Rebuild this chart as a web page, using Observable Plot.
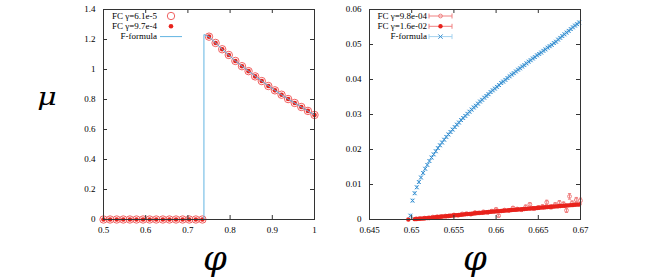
<!DOCTYPE html>
<html><head><meta charset="utf-8">
<script src="https://cdn.jsdelivr.net/npm/d3@7"></script>
<script src="https://cdn.jsdelivr.net/npm/@observablehq/plot@0.6"></script>
<style>
html,body{margin:0;padding:0;background:#fff;}
#wrap{position:relative;width:664px;height:279px;overflow:hidden;}
#wrap svg{position:absolute;top:0;}
</style></head>
<body><div id="wrap"></div>
<script>
// ---------- Left panel data ----------
const fcPhi = [0.5,0.515625,0.53125,0.546875,0.5625,0.578125,0.59375,0.609375,0.625,0.640625,0.65625,0.671875,0.6875,0.703125,0.71875,0.734375,
  0.75,0.765625,0.78125,0.796875,0.8125,0.828125,0.84375,0.859375,0.875,0.890625,0.90625,0.921875,0.9375,0.953125,0.96875,0.984375,1.0];
const fcMu = [0,0,0,0,0,0,0,0,0,0,0,0,0,0,0,0,
  1.219,1.177,1.135,1.097,1.057,1.022,0.989,0.954,0.923,0.890,0.861,0.832,0.803,0.777,0.750,0.724,0.697];
const fLinePhi = [0.5,0.738,0.738,0.75,0.78125,0.8125,0.84375,0.875,0.90625,0.9375,0.96875,1.0];
const fLineMu  = [0,0,1.233,1.219,1.135,1.057,0.989,0.923,0.861,0.803,0.750,0.697];
const xTicksL = [0.5,0.6,0.7,0.8,0.9,1];
const xLabelsL = ["0.5","0.6","0.7","0.8","0.9","1"];
const yTicksL = [0,0.2,0.4,0.6,0.8,1,1.2,1.4];
const yLabelsL = ["0","0.2","0.4","0.6","0.8","1","1.2","1.4"];
const legendL = ["FC \u03b3=6.1e-5","FC \u03b3=9.7e-4","F-formula"];

// ---------- Right panel data ----------
const gridPhi = [0.64985,0.6501,0.65035,0.6506,0.65085,0.6511,0.65135,0.6516,0.65185,0.6521,0.65235,0.6526,0.65285,0.6531,0.65335,0.6536,0.65385,0.6541,0.65435,0.6546,
  0.65485,0.6551,0.65535,0.6556,0.65585,0.6561,0.65635,0.6566,0.65685,0.6571,0.65735,0.6576,0.65785,0.6581,0.65835,0.6586,0.65885,0.6591,0.65935,0.6596,
  0.65985,0.6601,0.66035,0.6606,0.66085,0.6611,0.66135,0.6616,0.66185,0.6621,0.66235,0.6626,0.66285,0.6631,0.66335,0.6636,0.66385,0.6641,0.66435,0.6646,
  0.66485,0.6651,0.66535,0.6656,0.66585,0.6661,0.66635,0.6666,0.66685,0.6671,0.66735,0.6676,0.66785,0.6681,0.66835,0.6686,0.66885,0.6691,0.66935,0.6696,0.66985];
const fMuR = [0.0011,0.0054,0.0075,0.0092,0.0107,0.0120,0.0133,0.0145,0.0156,0.0167,0.0177,0.0186,0.0195,0.0204,0.0212,0.0220,0.0228,0.0236,0.0243,0.0250,
  0.0257,0.0264,0.0271,0.0277,0.0284,0.0290,0.0296,0.0302,0.0308,0.0314,0.0320,0.0325,0.0331,0.0337,0.0342,0.0348,0.0353,0.0358,0.0364,0.0369,
  0.0374,0.0379,0.0384,0.0390,0.0394,0.0399,0.0404,0.0409,0.0414,0.0418,0.0423,0.0428,0.0432,0.0437,0.0441,0.0446,0.0451,0.0455,0.0460,0.0464,
  0.0469,0.0473,0.0477,0.0482,0.0486,0.0491,0.0495,0.0499,0.0504,0.0508,0.0514,0.0519,0.0524,0.0529,0.0534,0.0539,0.0544,0.0549,0.0554,0.0558,0.0563];
const fErrR = 0.0004;
const fcHiPhi = [0.6496].concat(gridPhi.slice(2));
const fcHiMu = [0,0.0001,0.00015,0.0002,0.00025,0.0003,0.00035,0.0004,0.00045,0.00055,0.0006,0.00065,0.0007,0.0008,0.00085,0.0009,0.00095,0.001,0.00105,0.00115,
  0.0012,0.00125,0.0013,0.00135,0.0014,0.0015,0.00155,0.0016,0.00165,0.0017,0.0018,0.00185,0.0019,0.00195,0.002,0.0021,0.00215,0.0022,0.00225,0.0023,
  0.00235,0.0024,0.00245,0.0025,0.00255,0.0026,0.00265,0.0027,0.00275,0.0028,0.00285,0.0029,0.00295,0.003,0.00305,0.0031,0.00315,0.0032,0.00325,0.0033,
  0.00335,0.0034,0.00345,0.0035,0.00355,0.0036,0.00365,0.0037,0.00375,0.0038,0.00385,0.0039,0.00395,0.004,0.00405,0.0041,0.00415,0.0042,0.00425,0.0043];
const fcLoPhi = [0.6505,0.651,0.6515,0.652,0.6525,0.653,0.6535,0.654,0.6545,0.655,0.6555,0.656,0.6565,0.657,0.6575,0.658,0.6585,0.659,0.6595,0.66,
  0.6603,0.661,0.6615,0.662,0.6625,0.663,0.6635,0.664,0.6645,0.665,0.6655,0.666,0.6665,0.667,0.6675,0.668,0.66834,0.6687,0.669,0.6695,0.67];
const fcLoMu = [0.0002,0.0003,0.0004,0.0005,0.0007,0.0008,0.0008,0.0010,0.0011,0.0013,0.0012,0.0016,0.0017,0.0015,0.0020,0.0019,0.0022,0.0020,0.0024,0.0029,
  0.0011,0.0027,0.0026,0.0033,0.0030,0.0028,0.0036,0.0043,0.0031,0.0034,0.0037,0.0049,0.0036,0.0042,0.0048,0.0044,0.0026,0.0066,0.0047,0.0056,0.0054];
const fcLoErr = [0.0001,0.0001,0.0001,0.0002,0.0002,0.0002,0.0002,0.0002,0.0002,0.0003,0.0003,0.0003,0.0003,0.0003,0.0003,0.0003,0.0003,0.0004,0.0004,0.0004,
  0.0004,0.0004,0.0004,0.0004,0.0004,0.0005,0.0005,0.0005,0.0005,0.0005,0.0005,0.0006,0.0006,0.0006,0.0006,0.0006,0.0006,0.0008,0.0006,0.0007,0.0007];
const xTicksR = [0.645,0.65,0.655,0.66,0.665,0.67];
const xLabelsR = ["0.645","0.65","0.655","0.66","0.665","0.67"];
const yTicksR = [0,0.01,0.02,0.03,0.04,0.05,0.06];
const yLabelsR = ["0","0.01","0.02","0.03","0.04","0.05","0.06"];
const legendR = ["FC \u03b3=9.8e-04","FC \u03b3=1.6e-02","F-formula"];

// ---------- styles ----------
const RED = "#e8221c", PINK = "#f08080", BLUE = "#3a8fd0", LBLUE = "#a4d2ef", LINEBLUE = "#62b4e2", FRAME = "#333";
const TICKFONT = "Liberation Serif";

const capSymbol = {draw(ctx, size){ const r = Math.sqrt(size)/2; ctx.moveTo(-r,0); ctx.lineTo(r,0); }};

function scaffold(xTicks, xLabels, yTicks, yLabels, fw, fh) {
  const k = 4;
  return [
    Plot.tickX(xTicks, {x: d => d, insetTop: fh - k, stroke: FRAME}),
    Plot.tickX(xTicks, {x: d => d, insetBottom: fh - k, stroke: FRAME}),
    Plot.tickY(yTicks, {y: d => d, insetRight: fw - k, stroke: FRAME}),
    Plot.tickY(yTicks, {y: d => d, insetLeft: fw - k, stroke: FRAME}),
    Plot.axisX({ticks: xTicks, tickSize: 0, tickPadding: 7, tickFormat: (d, i) => xLabels[i], label: null}),
    Plot.axisY({ticks: yTicks, tickSize: 0, tickPadding: 8, tickFormat: (d, i) => yLabels[i], label: null})
  ];
}

// ---------- Left plot ----------
const LW = 340, LH = 279, LML = 103, LMR = 26, LMT = 9, LMB = 60;
const lfw = LW - LML - LMR, lfh = LH - LMT - LMB;
const fcData = fcPhi.map((x, i) => ({x, y: fcMu[i]}));
const fLine = fLinePhi.map((x, i) => ({x, y: fLineMu[i]}));
const left = Plot.plot({
  width: LW, height: LH, marginLeft: LML, marginRight: LMR, marginTop: LMT, marginBottom: LMB,
  style: {fontFamily: TICKFONT, fontSize: "9px", color: "#000", background: "transparent"},
  x: {domain: [0.5, 1]}, y: {domain: [0, 1.4]},
  marks: [
    Plot.dot(fcData, {x: "x", y: "y", r: 3.7, stroke: "#f06060", strokeWidth: 1, fill: "none"}),
    Plot.dot(fcData, {x: "x", y: "y", r: 2.3, fill: RED, stroke: "none"}),
    Plot.line(fLine, {x: "x", y: "y", stroke: LINEBLUE, strokeWidth: 1}),
    Plot.frame({stroke: FRAME}),
    ...scaffold(xTicksL, xLabelsL, yTicksL, yLabelsL, lfw, lfh)
  ]
});
left.style.left = "0px";

// ---------- Right plot ----------
const RX = 340, RW = 324, RH = 279, RML = 29, RMR = 84, RMT = 9, RMB = 60;
const rfw = RW - RML - RMR, rfh = RH - RMT - RMB;
const blue = gridPhi.map((x, i) => ({x, y: fMuR[i]}));
const hi = fcHiPhi.map((x, i) => ({x, y: fcHiMu[i]}));
const lo = fcLoPhi.map((x, i) => ({x, y: fcLoMu[i], e: fcLoErr[i]}));
const right = Plot.plot({
  width: RW, height: RH, marginLeft: RML, marginRight: RMR, marginTop: RMT, marginBottom: RMB,
  style: {fontFamily: TICKFONT, fontSize: "9px", color: "#000", background: "transparent"},
  x: {domain: [0.645, 0.67]}, y: {domain: [0, 0.06]},
  marks: [
    Plot.ruleX(lo, {x: "x", y1: d => d.y - d.e, y2: d => d.y + d.e, stroke: PINK, strokeWidth: 1}),
    Plot.dot(lo, {x: "x", y: d => d.y - d.e, symbol: capSymbol, r: 1.8, stroke: PINK, strokeWidth: 1}),
    Plot.dot(lo, {x: "x", y: d => d.y + d.e, symbol: capSymbol, r: 1.8, stroke: PINK, strokeWidth: 1}),
    Plot.dot(lo, {x: "x", y: "y", r: 1.9, stroke: PINK, fill: "none", strokeWidth: 1}),
    Plot.dot(hi, {x: "x", y: "y", r: 2.2, fill: RED, stroke: "none"}),
    Plot.ruleX(blue, {x: "x", y1: d => d.y - fErrR, y2: d => d.y + fErrR, stroke: LBLUE, strokeWidth: 1}),
    Plot.dot(blue, {x: "x", y: d => d.y - fErrR, symbol: capSymbol, r: 2, stroke: LBLUE, strokeWidth: 1}),
    Plot.dot(blue, {x: "x", y: d => d.y + fErrR, symbol: capSymbol, r: 2, stroke: LBLUE, strokeWidth: 1}),
    Plot.dot(blue, {x: "x", y: "y", symbol: "times", r: 1.9, stroke: BLUE, strokeWidth: 1}),
    Plot.frame({stroke: FRAME}),
    ...scaffold(xTicksR, xLabelsR, yTicksR, yLabelsR, rfw, rfh)
  ]
});
right.style.left = RX + "px";

// ---------- Legends ----------
function legend(svg, labels, textEnd, x1, x2, rows, kinds) {
  const g = d3.select(svg).append("g").attr("font-family", TICKFONT).attr("font-size", 9);
  labels.forEach((t, i) => {
    const y = rows[i];
    g.append("text").attr("x", textEnd).attr("y", y).attr("dy", "0.32em").attr("text-anchor", "end").text(t);
    const xm = (x1 + x2) / 2, k = kinds[i];
    if (k.line) {
      g.append("line").attr("x1", x1).attr("x2", x2).attr("y1", y).attr("y2", y).attr("stroke", k.line);
      if (k.caps) {
        [x1, x2].forEach(xc => g.append("line").attr("x1", xc).attr("x2", xc).attr("y1", y - 2.5).attr("y2", y + 2.5).attr("stroke", k.line));
      }
    }
    if (k.sym === "open") g.append("circle").attr("cx", xm).attr("cy", y).attr("r", k.r).attr("fill", "none").attr("stroke", k.c);
    if (k.sym === "dot") g.append("circle").attr("cx", xm).attr("cy", y).attr("r", k.r).attr("fill", k.c);
    if (k.sym === "x") g.append("path").attr("d", d3.symbol(d3.symbolTimes, 14)()).attr("transform", `translate(${xm},${y})`).attr("stroke", k.c).attr("fill", "none");
  });
}
legend(left, legendL, 157, 160, 182, [16, 26.3, 36.6], [
  {sym: "open", c: "#f06060", r: 3.7},
  {sym: "dot", c: RED, r: 2.3},
  {line: LINEBLUE}
]);
legend(right, legendR, 427 - RX, 429 - RX, 452 - RX, [16, 26.3, 36.6], [
  {sym: "open", c: PINK, r: 1.9, line: PINK, caps: true},
  {sym: "dot", c: RED, r: 2.2, line: PINK, caps: true},
  {sym: "x", c: BLUE, line: LBLUE, caps: true}
]);

// ---------- Axis symbols (large math labels) ----------
function bigLabel(svg, t, cx, baseline, size, sx) {
  d3.select(svg).append("text")
    .attr("transform", `translate(${cx},${baseline}) scale(${sx},1)`)
    .attr("text-anchor", "middle")
    .attr("font-family", "DejaVu Serif").attr("font-style", "italic").attr("font-weight", 200)
    .attr("font-size", size).attr("fill", "#000").text(t);
}
bigLabel(left, "\u03bc", 47, 105, 24, 1.25);
bigLabel(left, "\u03c6", 215, 270, 34, 1.0);
bigLabel(right, "\u03c6", 475 - RX, 270, 34, 1.0);

const wrap = document.getElementById("wrap");
wrap.appendChild(left);
wrap.appendChild(right);
</script>
</body></html>
